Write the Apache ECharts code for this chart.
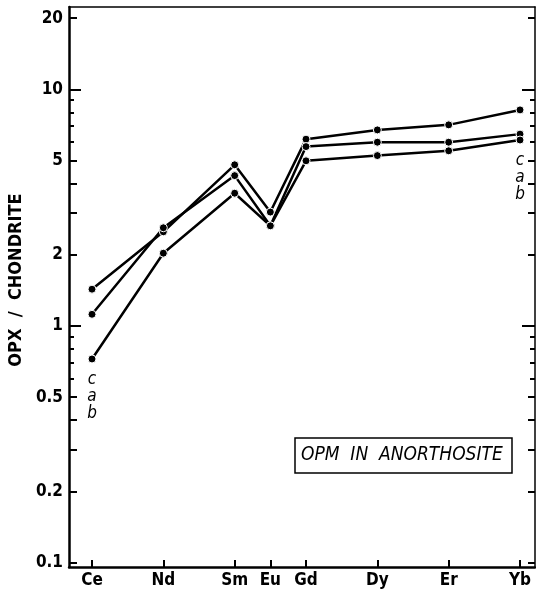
<!DOCTYPE html>
<html>
<head>
<meta charset="utf-8">
<script src="https://cdn.jsdelivr.net/npm/echarts@6/dist/echarts.min.js"></script>
<style>
  html, body { margin: 0; padding: 0; background: #fff; }
  #chart { width: 536px; height: 596px; }
</style>
</head>
<body>
<div id="chart"></div>
<script>
// REE pattern, OPX / chondrite, log scale
var elements = ['Ce', 'Nd', 'Sm', 'Eu', 'Gd', 'Dy', 'Er', 'Yb'];
var atomicNumbers = [58, 60, 62, 63, 64, 66, 68, 70];
var seriesC = [1.43, 2.50, 4.80, 3.03, 6.16, 6.74, 7.08, 8.19];
var seriesA = [1.12, 2.60, 4.32, 2.65, 5.73, 5.98, 5.98, 6.47];
var seriesB = [0.725, 2.03, 3.64, 2.65, 4.99, 5.25, 5.50, 6.11];
var yLabels = [0.1, 0.2, 0.5, 1, 2, 5, 10, 20];
var longTicks = [1, 10];
var midTicks = [0.1, 0.2, 0.3, 0.4, 0.5, 2, 3, 4, 5, 20];
var shortTicks = [0.6, 0.7, 0.8, 0.9, 6, 7, 8, 9];

var font = "'Liberation Sans Narrow', 'DejaVu Sans Condensed', sans-serif";
var yMin = 0.0957, yMax = 22.3;

function pairs(vals) {
    var out = [];
    for (var i = 0; i < vals.length; i++) {
        out.push([atomicNumbers[i], vals[i]]);
    }
    return out;
}

function logAxis(pos, ticks, len, lineWidth, showLabels) {
    return {
        type: 'log',
        position: pos,
        min: yMin,
        max: yMax,
        axisLine: { show: lineWidth > 0, lineStyle: { color: '#000', width: lineWidth || 1 } },
        axisTick: { show: true, inside: true, length: len, customValues: ticks,
                    lineStyle: { color: '#000', width: 2 } },
        axisLabel: showLabels ? {
            customValues: yLabels,
            formatter: function (v) { return String(v); },
            fontFamily: font, fontWeight: 'bold', fontSize: 17, color: '#000', margin: 6
        } : { show: false },
        splitLine: { show: false },
        minorTick: { show: false }
    };
}

var yAxes = [
    logAxis('left', midTicks, 8, 2.5, true),
    logAxis('left', longTicks, 12, 0, false),
    logAxis('left', shortTicks, 5, 0, false),
    logAxis('right', midTicks, 7, 1.5, false),
    logAxis('right', longTicks, 13, 0, false),
    logAxis('right', shortTicks, 5, 0, false)
];
yAxes[0].name = 'OPX  /  CHONDRITE';
yAxes[0].nameLocation = 'middle';
yAxes[0].nameGap = 44;
yAxes[0].nameTextStyle = { fontFamily: font, fontWeight: 'bold', fontSize: 18, color: '#000',
                           padding: [0, 0, 0, 14] };

function lineSeries(name, vals) {
    return {
        name: name,
        type: 'line',
        data: pairs(vals),
        yAxisIndex: 0,
        symbol: 'circle',
        symbolSize: 8,
        lineStyle: { color: '#000', width: 2.5 },
        itemStyle: { color: '#000', borderColor: '#fff', borderWidth: 1 },
        emphasis: { disabled: true }
    };
}

var sB = lineSeries('b', seriesB);
var endLabel = {
    show: true, position: 'bottom', distance: 8,
    formatter: 'c\na\nb',
    fontFamily: font, fontStyle: 'italic', fontSize: 17, lineHeight: 17, color: '#000'
};
sB.data = pairs(seriesB).map(function (p, i) {
    if (i === 0 || i === seriesB.length - 1) {
        return { value: p, label: endLabel };
    }
    return p;
});

var myChart = echarts.init(document.getElementById('chart'));
var option = {
    animation: false,
    backgroundColor: '#fff',
    title: {
        text: 'OPM  IN  ANORTHOSITE',
        left: 295, top: 438,
        padding: [8, 10, 8, 6],
        borderColor: '#000', borderWidth: 1.5,
        textStyle: { fontFamily: font, fontStyle: 'italic', fontWeight: 'normal', fontSize: 19, color: '#000' }
    },
    grid: { left: 69, right: 1, top: 7, bottom: 29, outerBoundsMode: 'none', containLabel: false },
    xAxis: [{
        type: 'value',
        position: 'bottom',
        min: 57.355,
        max: 70.42,
        axisLine: { lineStyle: { color: '#000', width: 2.5 } },
        axisTick: { inside: true, length: 7, customValues: atomicNumbers,
                    lineStyle: { color: '#000', width: 2 } },
        axisLabel: {
            customValues: atomicNumbers,
            formatter: function (v) { return elements[atomicNumbers.indexOf(v)]; },
            fontFamily: font, fontWeight: 'bold', fontSize: 17, color: '#000', margin: 5
        },
        splitLine: { show: false }
    }, {
        type: 'value',
        position: 'top',
        min: 57.355,
        max: 70.42,
        axisLine: { lineStyle: { color: '#000', width: 1.5 } },
        axisTick: { show: false },
        axisLabel: { show: false },
        splitLine: { show: false }
    }],
    yAxis: yAxes,
    series: [
        lineSeries('c', seriesC),
        lineSeries('a', seriesA),
        sB
    ]
};
myChart.setOption(option);
</script>
</body>
</html>
